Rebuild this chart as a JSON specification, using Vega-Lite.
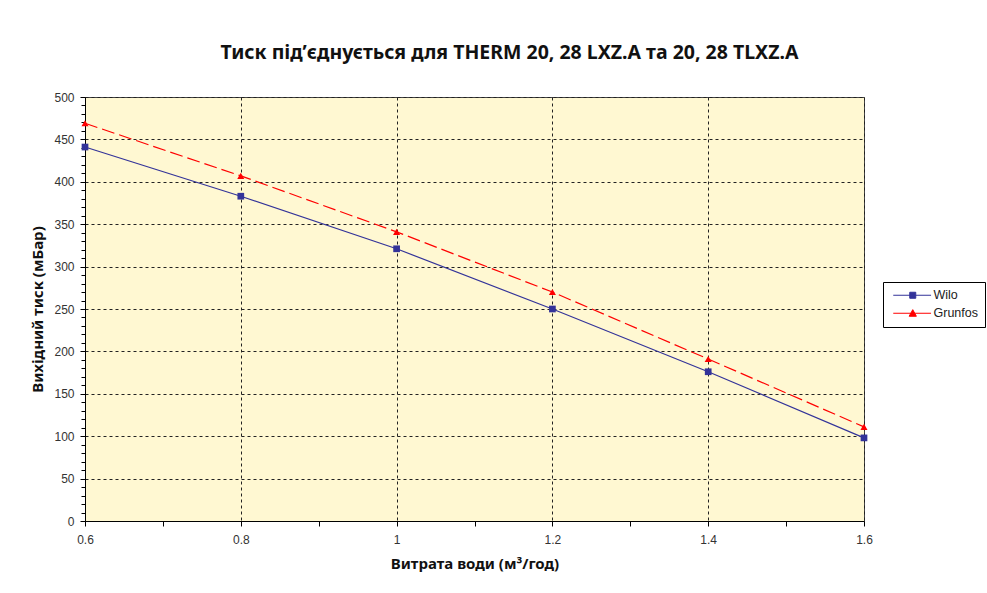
{
  "$schema": "https://vega.github.io/schema/vega-lite/v6.json",
  "width": 779,
  "height": 424,
  "autosize": {"type": "none"},
  "padding": {"left": 85, "top": 97, "right": 123, "bottom": 72},
  "background": "white",
  "config": {"view": {"fill": "#FFF8D2", "stroke": "#444", "strokeWidth": 1}},
  "title": {
    "text": "Тиск під’єднується для THERM 20, 28 LXZ.A та 20, 28 TLXZ.A",
    "font": "Noto Sans",
    "fontSize": 19.5,
    "fontWeight": "bold",
    "color": "#111",
    "anchor": "middle",
    "dx": 35,
    "offset": 28
  },
  "data": {
    "values": [
      {"flow": 0.6, "pressure": 441, "series": "Wilo"},
      {"flow": 0.8, "pressure": 383, "series": "Wilo"},
      {"flow": 1.0, "pressure": 321, "series": "Wilo"},
      {"flow": 1.2, "pressure": 250, "series": "Wilo"},
      {"flow": 1.4, "pressure": 176, "series": "Wilo"},
      {"flow": 1.6, "pressure": 98, "series": "Wilo"},
      {"flow": 0.6, "pressure": 469, "series": "Grunfos"},
      {"flow": 0.8, "pressure": 407, "series": "Grunfos"},
      {"flow": 1.0, "pressure": 341, "series": "Grunfos"},
      {"flow": 1.2, "pressure": 270, "series": "Grunfos"},
      {"flow": 1.4, "pressure": 191, "series": "Grunfos"},
      {"flow": 1.6, "pressure": 111, "series": "Grunfos"}
    ]
  },
  "resolve": {"axis": {"x": "independent", "y": "independent"}},
  "layer": [
    {
      "transform": [{"filter": "datum.series === 'Wilo'"}],
      "mark": {"type": "line", "strokeWidth": 1.2},
      "encoding": {
        "x": {
          "field": "flow", "type": "quantitative",
          "scale": {"domain": [0.6, 1.6], "nice": false, "zero": false},
          "axis": {
            "orient": "bottom",
            "title": "Витрата води (м³/год)",
            "values": [0.6, 0.8, 1.0, 1.2, 1.4, 1.6],
            "labelExpr": "format(datum.value, '~g')",
            "labelFlush": false,
            "grid": true, "gridDash": [3, 3], "gridColor": "#222", "gridOpacity": 1,
            "tickSize": 5, "tickColor": "#000", "domainColor": "#000",
            "labelFont": "Liberation Sans", "labelFontSize": 12, "labelColor": "#333",
            "labelPadding": 8,
            "titleFont": "Noto Sans", "titleFontSize": 15, "titleFontWeight": "bold", "titleColor": "#111",
            "titlePadding": 11
          }
        },
        "y": {
          "field": "pressure", "type": "quantitative",
          "scale": {"domain": [0, 500], "nice": false},
          "axis": {
            "orient": "left",
            "title": "Вихідний тиск (мБар)",
            "values": [0, 50, 100, 150, 200, 250, 300, 350, 400, 450, 500],
            "grid": true, "gridDash": [3, 3], "gridColor": "#222", "gridOpacity": 1,
            "tickSize": 5, "tickColor": "#000", "domainColor": "#000",
            "labelFont": "Liberation Sans", "labelFontSize": 12, "labelColor": "#333",
            "labelPadding": 6,
            "labelFlush": false,
            "titleFont": "Noto Sans", "titleFontSize": 15, "titleFontWeight": "bold", "titleColor": "#111",
            "titlePadding": 8
          }
        },
        "color": {
          "field": "series", "type": "nominal",
          "scale": {"domain": ["Wilo", "Grunfos"], "range": ["#333399", "#FF0000"]},
          "legend": {
            "title": null,
            "orient": "none",
            "legendX": 798,
            "legendY": 185,
            "strokeColor": "#000",
            "fillColor": "white",
            "padding": 7,
            "labelFont": "Liberation Sans",
            "labelFontSize": 12.5,
            "labelColor": "#222",
            "symbolSize": 36,
            "symbolStrokeWidth": 1,
            "labelOffset": 31,
            "rowPadding": 5,
            "encode": {
              "symbols": {
                "update": {
                  "shape": {"signal": "datum.value === 'Wilo' ? 'M-1,0H11.6M4.5,-1H6.5V1H4.5Z' : 'M-1,0H11.6M5.5,-1.2L6.7,1H4.3Z'"},
                  "fill": {"signal": "datum.value === 'Wilo' ? '#333399' : '#FF0000'"},
                  "stroke": {"signal": "datum.value === 'Wilo' ? '#333399' : '#FF0000'"},
                  "opacity": {"value": 1}
                }
              }
            }
          }
        }
      }
    },
    {
      "transform": [{"filter": "datum.series === 'Grunfos'"}],
      "mark": {"type": "line", "strokeWidth": 1.2, "color": "#FF0000", "strokeDash": [13, 5]},
      "encoding": {
        "x": {"field": "flow", "type": "quantitative", "axis": null},
        "y": {"field": "pressure", "type": "quantitative", "axis": null}
      }
    },
    {
      "transform": [{"filter": "datum.series === 'Wilo'"}],
      "mark": {"type": "point", "filled": true, "opacity": 1, "size": 45, "shape": "square", "color": "#333399"},
      "encoding": {
        "x": {
          "field": "flow", "type": "quantitative",
          "axis": {
            "orient": "bottom", "title": null, "labels": false, "grid": false, "domain": false,
            "values": [0.7, 0.9, 1.1, 1.3, 1.5], "tickSize": 5, "tickColor": "#000"
          }
        },
        "y": {
          "field": "pressure", "type": "quantitative",
          "axis": {
            "orient": "left", "title": null, "labels": false, "grid": false, "domain": false,
            "values": [10, 20, 30, 40, 60, 70, 80, 90, 110, 120, 130, 140, 160, 170, 180, 190, 210, 220, 230, 240, 260, 270, 280, 290, 310, 320, 330, 340, 360, 370, 380, 390, 410, 420, 430, 440, 460, 470, 480, 490],
            "tickSize": 4, "tickColor": "#000"
          }
        }
      }
    },
    {
      "transform": [{"filter": "datum.series === 'Grunfos'"}],
      "mark": {"type": "point", "filled": true, "opacity": 1, "size": 50, "shape": "triangle-up", "color": "#FF0000"},
      "encoding": {
        "x": {"field": "flow", "type": "quantitative", "axis": null},
        "y": {"field": "pressure", "type": "quantitative", "axis": null}
      }
    }
  ]
}
